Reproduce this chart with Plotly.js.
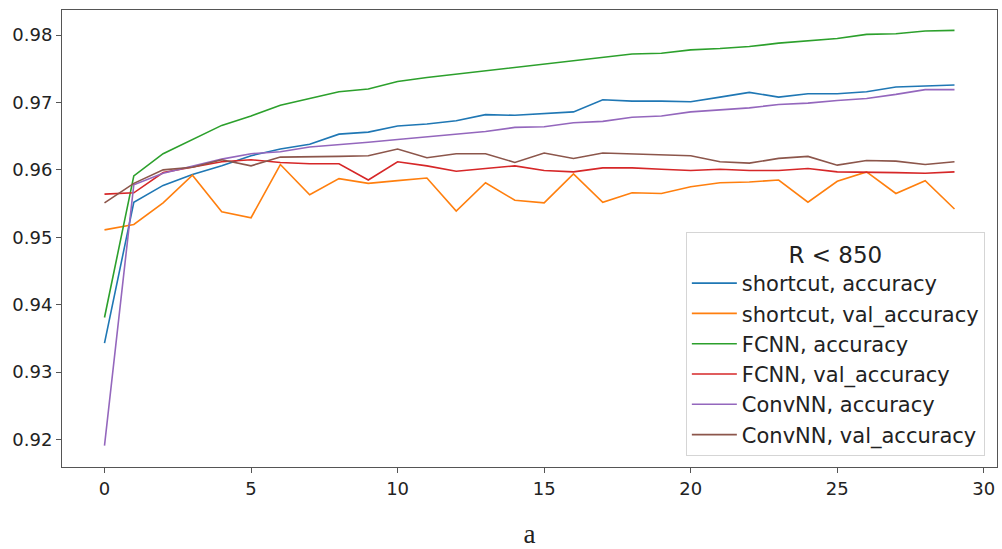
<!DOCTYPE html>
<html>
<head>
<meta charset="utf-8">
<script src="https://cdn.plot.ly/plotly-3.0.1.min.js"></script>
<style>html,body{margin:0;padding:0;background:#fff;}#chart{width:1002px;height:549px;}</style>
</head>
<body>
<div id="chart"></div>
<script>
const epochs = [0,1,2,3,4,5,6,7,8,9,10,11,12,13,14,15,16,17,18,19,20,21,22,23,24,25,26,27,28,29];
const seriesNames = ["shortcut, accuracy","shortcut, val_accuracy","FCNN, accuracy","FCNN, val_accuracy","ConvNN, accuracy","ConvNN, val_accuracy"];
const seriesColors = ["#1f77b4","#ff7f0e","#2ca02c","#d62728","#9467bd","#8c564b"];

const shortcutAcc = [0.9343,0.9552,0.9577,0.9593,0.9606,0.9621,0.9631,0.9638,0.9653,0.9656,0.9665,0.9668,0.9673,0.9682,0.9681,0.9684,0.9686,0.9704,0.9702,0.9702,0.9701,0.9708,0.9715,0.9708,0.9713,0.9713,0.9716,0.9723,0.9724,0.9726];
const shortcutVal = [0.9511,0.9519,0.9551,0.9592,0.9538,0.9529,0.9608,0.9563,0.9587,0.9580,0.9584,0.9588,0.9539,0.9581,0.9555,0.9551,0.9594,0.9552,0.9566,0.9565,0.9575,0.9581,0.9582,0.9585,0.9552,0.9583,0.9597,0.9565,0.9584,0.9542];
const fcnnAcc = [0.9381,0.9591,0.9624,0.9645,0.9666,0.9680,0.9696,0.9706,0.9716,0.9720,0.9731,0.9737,0.9742,0.9746,0.9752,0.9756,0.9762,0.9766,0.9772,0.9773,0.9778,0.9780,0.9783,0.9788,0.9791,0.9795,0.9801,0.9802,0.9806,0.9807];
const fcnnVal = [0.9564,0.9566,0.9596,0.9604,0.9612,0.9615,0.9611,0.9609,0.9609,0.9585,0.9612,0.9606,0.9598,0.9602,0.9606,0.9599,0.9597,0.9603,0.9603,0.9601,0.9599,0.9601,0.9599,0.9599,0.9602,0.9597,0.9597,0.9596,0.9595,0.9597];
const convAcc = [0.9191,0.9578,0.9595,0.9606,0.9616,0.9624,0.9627,0.9634,0.9637,0.9641,0.9645,0.9649,0.9654,0.9657,0.9663,0.9664,0.9670,0.9672,0.9678,0.9680,0.9686,0.9689,0.9692,0.9697,0.9699,0.9703,0.9706,0.9712,0.9719,0.9719];
const convVal = [0.9551,0.9580,0.9600,0.9604,0.9615,0.9606,0.9619,0.9619,0.9620,0.9621,0.9631,0.9618,0.9624,0.9624,0.9611,0.9625,0.9617,0.9625,0.9624,0.9623,0.9621,0.9612,0.9610,0.9617,0.9620,0.9607,0.9614,0.9613,0.9608,0.9612];

const xTickVals = [0,5,10,15,20,25,30];
const yTickVals = [0.92,0.93,0.94,0.95,0.96,0.97,0.98];
const yTickText = ["0.92","0.93","0.94","0.95","0.96","0.97","0.98"];
const legendTitle = "R &lt; 850";
const xTitle = "a";

const allSeries = [shortcutAcc, shortcutVal, fcnnAcc, fcnnVal, convAcc, convVal];
const traces = allSeries.map((ys, i) => ({
  x: epochs, y: ys, type: "scatter", mode: "lines", name: seriesNames[i],
  legendgroup: "g" + i,
  line: {color: seriesColors[i], width: 1.6}
}));

const axisCommon = {
  showgrid: false, zeroline: false, showline: true, mirror: true,
  linecolor: "#555", linewidth: 1, ticks: "outside", ticklen: 5, tickwidth: 1,
  tickcolor: "#555", tickfont: {family: "DejaVu Sans", size: 18, color: "#222"}
};

const layout = {
  width: 1002, height: 549,
  margin: {l: 62, r: 5, t: 10, b: 82},
  paper_bgcolor: "#fff", plot_bgcolor: "#fff",
  showlegend: true,
  xaxis: Object.assign({}, axisCommon, {
    range: [-1.45, 30.45], tickvals: xTickVals,
    title: {text: xTitle, font: {family: "Liberation Serif", size: 27, color: "#222"}, standoff: 29}
  }),
  yaxis: Object.assign({}, axisCommon, {
    range: [0.91592, 0.98372], tickvals: yTickVals, ticktext: yTickText
  }),
  legend: {
    x: 0.987, y: 0.024, xanchor: "right", yanchor: "bottom",
    bgcolor: "rgba(255,255,255,0.85)", bordercolor: "#d5d5d5", borderwidth: 1,
    font: {family: "DejaVu Sans", size: 21, color: "#222"},
    title: {text: legendTitle, side: "top center", font: {family: "DejaVu Sans", size: 23, color: "#222"}},
    traceorder: "grouped", tracegroupgap: 0, itemwidth: 45
  }
};

Plotly.newPlot("chart", traces, layout, {displayModeBar: false, staticPlot: true});
</script>
</body>
</html>
